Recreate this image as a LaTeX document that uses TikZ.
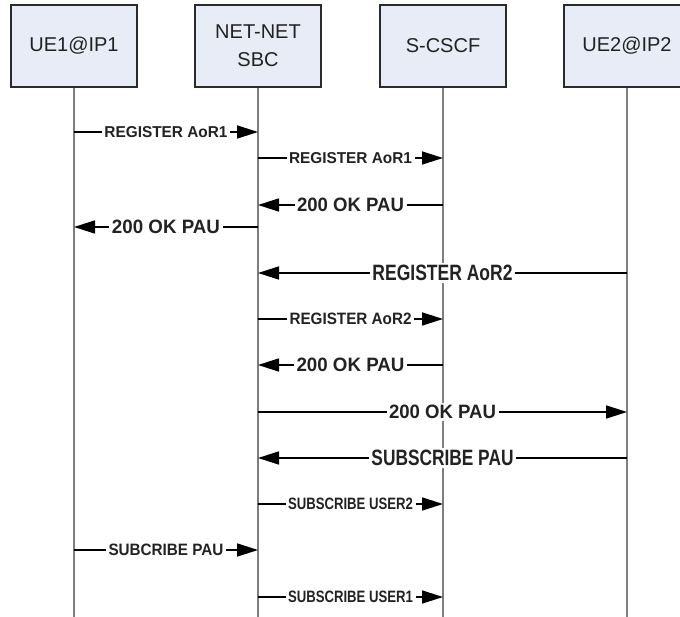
\documentclass[tikz,border=0pt]{standalone}
\usepackage{fontspec}
\setmainfont{Liberation Sans}
\usepackage{graphicx}
\usetikzlibrary{arrows.meta}
\definecolor{boxfill}{HTML}{E8ECF6}
\definecolor{boxline}{HTML}{2A2A2A}
\definecolor{lifegray}{HTML}{7E7E7E}
\definecolor{txt}{HTML}{222222}
\newcommand{\lbltext}[3]{\resizebox{#1pt}{#2pt}{\bfseries #3}}
\tikzset{
  entity/.style={draw=boxline, line width=1.8pt, fill=boxfill, minimum width=126pt,
    minimum height=82pt, inner sep=0pt, text=txt, font=\fontsize{20}{28}\selectfont, align=center},
  lifeline/.style={draw=lifegray, line width=2.8pt},
  msg/.style={draw=black, line width=1.7pt, -{Triangle[length=21pt, width=13pt]}},
  lbl/.style={fill=white, inner xsep=2.5pt, inner ysep=2pt, text=txt}
}
\begin{document}
\begin{tikzpicture}[x=1pt, y=-1pt]
\clip (0,0) rectangle (680,617);
\fill[white] (0,0) rectangle (680,617);
\coordinate (bot) at (0,617);
% lifelines first
\coordinate (x1) at (74,0);
\coordinate (x2) at (258,0);
\coordinate (x3) at (443,0);
\coordinate (x4) at (627,0);
\draw[lifeline] (x1 |- 0,80) -- (x1 |- bot);
\draw[lifeline] (x2 |- 0,80) -- (x2 |- bot);
\draw[lifeline] (x3 |- 0,80) -- (x3 |- bot);
\draw[lifeline] (x4 |- 0,80) -- (x4 |- bot);
% entities
\node[entity] (ue1) at (74,46) {UE1@IP1};
\node[entity] (sbc) at (258,46) {NET-NET\\SBC};
\node[entity] (cscf) at (443,46) {S-CSCF};
\node[entity] (ue2) at (627,46) {UE2@IP2};
% rows
\coordinate (r1) at (0,132);
\coordinate (r2) at (0,158);
\coordinate (r3) at (0,205);
\coordinate (r4) at (0,227);
\coordinate (r5) at (0,273);
\coordinate (r6) at (0,319);
\coordinate (r7) at (0,365);
\coordinate (r8) at (0,412);
\coordinate (r9) at (0,458);
\coordinate (r10) at (0,504);
\coordinate (r11) at (0,550);
\coordinate (r12) at (0,597);
% messages
\draw[msg] (ue1 |- r1) -- (sbc |- r1) node[lbl, midway] (t1) {\lbltext{123}{11}{REGISTER AoR1}};
\draw[msg] (sbc |- r2) -- (cscf |- r2) node[lbl, midway] (t2) {\lbltext{123}{11}{REGISTER AoR1}};
\draw[msg] (cscf |- r3) -- (sbc |- r3) node[lbl, midway] (t3) {\lbltext{107}{13.5}{200 OK PAU}};
\draw[msg] (sbc |- r4) -- (ue1 |- r4) node[lbl, midway] (t4) {\lbltext{108}{13.5}{200 OK PAU}};
\draw[msg] (ue2 |- r5) -- (sbc |- r5) node[lbl, midway] (t5) {\lbltext{140}{15.5}{REGISTER AoR2}};
\draw[msg] (sbc |- r6) -- (cscf |- r6) node[lbl, midway] (t6) {\lbltext{122}{11.5}{REGISTER AoR2}};
\draw[msg] (cscf |- r7) -- (sbc |- r7) node[lbl, midway] (t7) {\lbltext{108}{13.5}{200 OK PAU}};
\draw[msg] (sbc |- r8) -- (ue2 |- r8) node[lbl, midway] (t8) {\lbltext{107}{13.5}{200 OK PAU}};
\draw[msg] (ue2 |- r9) -- (sbc |- r9) node[lbl, midway] (t9) {\lbltext{142}{15.5}{SUBSCRIBE PAU}};
\draw[msg] (sbc |- r10) -- (cscf |- r10) node[lbl, midway] (t10) {\lbltext{125}{11.5}{SUBSCRIBE USER2}};
\draw[msg] (ue1 |- r11) -- (sbc |- r11) node[lbl, midway] (t11) {\lbltext{115}{11.5}{SUBCRIBE PAU}};
\draw[msg] (sbc |- r12) -- (cscf |- r12) node[lbl, midway] (t12) {\lbltext{125}{11.5}{SUBSCRIBE USER1}};
\end{tikzpicture}
\end{document}
